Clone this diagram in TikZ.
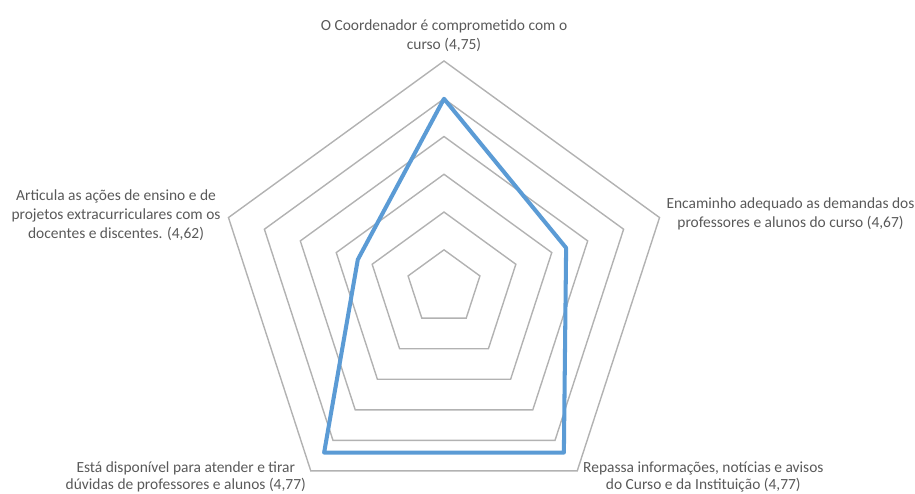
\documentclass[tikz,border=0pt]{standalone}
\usepackage{fontspec}
\setmainfont{Carlito}
\usetikzlibrary{positioning}
\definecolor{gridgray}{RGB}{178,178,178}
\definecolor{seriesblue}{RGB}{91,155,213}
\definecolor{labelgray}{RGB}{89,89,89}
\tikzset{
  base/.style={font=\fontsize{8.8}{10.8}\selectfont, align=center, inner sep=0pt, outer sep=0mm, text=labelgray},
  lowlbl/.style={base, font=\fontsize{8.8}{9.4}\selectfont},
  ring/.style={draw=gridgray, line width=0.8pt, line join=miter},
  series/.style={draw=seriesblue, line width=2.3pt, line join=round}
}

\begin{document}
\begin{tikzpicture}[x=0.02cm, y=0.02cm]
  \useasboundingbox (0,0) rectangle (915,493);

  \begin{scope}[shift={(444,205.4)}]
    \foreach \k in {1,...,6}
      \draw[ring] (90:\k*37.77) -- (18:\k*37.77) -- (-54:\k*37.77) -- (-126:\k*37.77) -- (162:\k*37.77) -- cycle;
    \coordinate (o-top) at (90:226.6);
    \coordinate (o-right) at (18:226.6);
    \coordinate (o-botright) at (-54:226.6);
    \coordinate (o-botleft) at (-126:226.6);
    \coordinate (o-left) at (162:226.6);
    \foreach \v/\a/\n in {4.75/90/top, 4.67/18/right, 4.77/-54/botright, 4.77/-126/botleft, 4.62/162/left}
      \coordinate (p-\n) at (\a:{(\v-4.5)*755.3});
    \draw[series] (p-top) -- (p-right) -- (p-botright) -- (p-botleft) -- (p-left) -- cycle;
  \end{scope}

  \node[base, above=0.18cm of o-top] (lbl-top) {O Coordenador é comprometido com o\\curso (4,75)};
  \node[base, left=0.16cm of o-left, yshift=0.05cm] (lbl-left) {Articula as ações de ensino e de\\projetos extracurriculares com os\\docentes e discentes. (4,62)};
  \node[base, right=0.14cm of o-right, yshift=0.07cm] (lbl-right) {Encaminho adequado as demandas dos\\professores e alunos do curso (4,67)};
  \node[lowlbl, anchor=north east, xshift=-0.1cm, yshift=0.18cm] (lbl-botleft) at (o-botleft) {Está disponível para atender e tirar\\dúvidas de professores e alunos (4,77)};
  \node[lowlbl, anchor=north west, xshift=0.12cm, yshift=0.18cm] (lbl-botright) at (o-botright) {Repassa informações, notícias e avisos\\do Curso e da Instituição (4,77)};
\end{tikzpicture}
\end{document}
